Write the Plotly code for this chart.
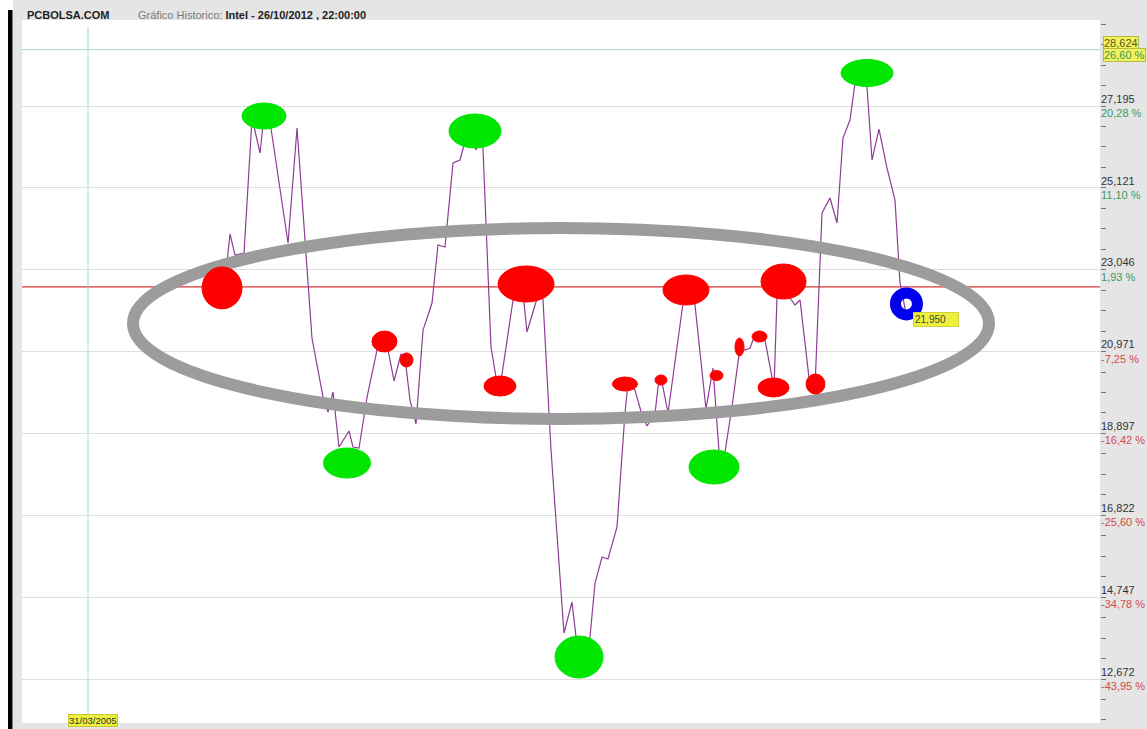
import plotly.graph_objects as go

# ---- data ----
# decimal years of the plotted vertices (Intel, Feb 2005 - 26/10/2012)
years = [2005.176, 2005.276, 2005.309, 2005.365, 2005.465, 2005.554, 2005.643, 2005.687,
         2005.754, 2005.954, 2006.054, 2006.187, 2006.220, 2006.343, 2006.398, 2006.454,
         2006.520, 2006.632, 2006.676, 2006.743, 2006.832, 2006.943, 2007.020, 2007.065,
         2007.132, 2007.209, 2007.254, 2007.309, 2007.376, 2007.454, 2007.554, 2007.620,
         2007.698, 2007.787, 2007.865, 2007.909, 2007.976, 2008.043, 2008.098, 2008.120,
         2008.209, 2008.265, 2008.309, 2008.454, 2008.532, 2008.576, 2008.609, 2008.709,
         2008.765, 2008.787, 2008.876, 2009.020, 2009.109, 2009.154, 2009.232, 2009.309,
         2009.365, 2009.443, 2009.509, 2009.609, 2009.698, 2009.731, 2009.809, 2009.887,
         2009.943, 2010.032, 2010.065, 2010.098, 2010.176, 2010.343, 2010.387, 2010.476,
         2010.598, 2010.676, 2010.743, 2010.776, 2010.809, 2010.887, 2010.976, 2011.032,
         2011.087, 2011.120, 2011.187, 2011.254, 2011.332, 2011.354, 2011.387, 2011.454,
         2011.532, 2011.587, 2011.643, 2011.743, 2011.809, 2011.887, 2011.976, 2012.054,
         2012.120, 2012.198, 2012.254, 2012.332, 2012.387, 2012.443, 2012.520, 2012.609,
         2012.698, 2012.754, 2012.820]

prices = [22.610, 23.241, 23.951, 23.418, 23.469, 26.891, 26.004, 26.967,
          26.789, 23.723, 26.637, 22.531, 21.315, 19.819, 19.439, 19.946,
          18.552, 18.958, 18.552, 18.527, 19.819, 21.011, 21.365, 21.011,
          20.225, 20.909, 20.808, 19.743, 19.135, 21.517, 22.202, 23.672,
          23.621, 25.750, 25.826, 26.207, 26.713, 26.080, 26.637, 26.130,
          21.087, 20.326, 20.047, 22.278, 23.140, 22.202, 21.467, 22.227,
          22.582, 22.278, 18.476, 13.838, 14.623, 13.736, 13.280, 13.736,
          15.105, 15.764, 15.713, 16.524, 19.414, 20.149, 19.997, 19.363,
          19.084, 19.414, 20.073, 20.326, 19.414, 22.202, 22.633, 22.151,
          19.515, 20.554, 18.425, 18.172, 18.425, 19.566, 21.087, 21.011,
          21.061, 21.264, 21.416, 21.264, 20.301, 20.047, 22.354, 22.835,
          22.329, 22.151, 22.278, 20.301, 20.047, 24.483, 24.863, 24.230,
          26.384, 26.840, 27.778, 28.260, 27.677, 25.826, 26.612, 25.624,
          24.812, 22.709, 21.950]

base_price = 22.61
cursor_price = 28.624
cursor_pct = "26,60 %"
cursor_date = "31/03/2005"
last_price_label = "21,950"

tick_values = [12.672, 14.747, 16.822, 18.897, 20.971, 23.046, 25.121, 27.195]
tick_value_labels = ["12,672", "14,747", "16,822", "18,897", "20,971", "23,046", "25,121", "27,195"]
tick_pct_labels = ["-43,95 %", "-34,78 %", "-25,60 %", "-16,42 %", "-7,25 %", "1,93 %", "11,10 %", "20,28 %"]

# highlighted points: (point index, colour, rx px, ry px, dx px, dy px)
GREEN = "#00e600"
RED = "#ff0000"
highlights = [
    (7, GREEN, 22, 13, 0, -1), (36, GREEN, 26, 17, 5, -6), (18, GREEN, 23.5, 15, -6, -16),
    (54, GREEN, 24, 21, -4, -2), (75, GREEN, 25, 17, -8, -5), (99, GREEN, 26, 13.5, 5, -9),
    (0, RED, 20, 21, 4, -1), (22, RED, 12.5, 10.5, 0.5, -5.5), (26, RED, 6.5, 7, 1.5, -2),
    (42, RED, 16, 10, 0, 2), (44, RED, 28, 18, 6, -18), (61, RED, 12.5, 7, -3, 0),
    (67, RED, 6, 5, 0, -3), (70, RED, 23, 15, -1, -4), (73, RED, 6.5, 5, 3.5, -7.5),
    (78, RED, 4.5, 9, -0.5, 0), (82, RED, 7.5, 5.5, 0.5, -2.5), (85, RED, 15.5, 9.5, -0.5, 0.5),
    (87, RED, 22.5, 17.5, 0.5, -3.5), (92, RED, 9.5, 10, 0.5, 4),
]

FONT = "Liberation Sans, Arial, sans-serif"
PW, PH, ML, MT = 1078, 703, 22, 20


def px_x(p):
    return (p - ML) / PW


def px_y(p):
    return (MT + PH - p) / PH


fig = go.Figure()
fig.add_trace(go.Scatter(x=years, y=prices, mode="lines",
                         line=dict(color="#8e3d95", width=1.2), hoverinfo="skip",
                         showlegend=False))

shapes = []
# background pieces outside the plot area
shapes.append(dict(type="rect", xref="paper", yref="paper", x0=px_x(0), x1=px_x(13),
                   y0=px_y(729), y1=px_y(0), fillcolor="white", line_width=0, layer="above"))
shapes.append(dict(type="rect", xref="paper", yref="paper", x0=px_x(8), x1=px_x(12.5),
                   y0=px_y(729), y1=px_y(10), fillcolor="black", line_width=0, layer="above"))
# reference (base) price line
shapes.append(dict(type="line", xref="paper", yref="y", x0=0, x1=1, y0=base_price, y1=base_price,
                   line=dict(color="#cc0000", width=1), layer="below"))
# cursor lines
shapes.append(dict(type="line", xref="paper", yref="y", x0=0, x1=1, y0=cursor_price, y1=cursor_price,
                   line=dict(color="#a6d3ca", width=1), layer="below"))
shapes.append(dict(type="line", xref="paper", yref="paper", x0=px_x(88), x1=px_x(88),
                   y0=0, y1=px_y(27), line=dict(color="#a6d3dc", width=1), layer="below"))
# big grey ellipse
shapes.append(dict(type="circle", xref="paper", yref="paper", x0=px_x(133), x1=px_x(989),
                   y0=px_y(419), y1=px_y(228), line=dict(color="#9c9c9c", width=12),
                   fillcolor="rgba(0,0,0,0)", layer="above"))
for idx, col, rx, ry, dx, dy in highlights:
    shapes.append(dict(type="circle", xref="x", yref="y", xsizemode="pixel", ysizemode="pixel",
                       xanchor=years[idx], yanchor=prices[idx],
                       x0=dx - rx, x1=dx + rx, y0=dy - ry, y1=dy + ry,
                       fillcolor=col, line=dict(color=col, width=1), layer="above"))
# blue ring on last price
shapes.append(dict(type="circle", xref="x", yref="y", xsizemode="pixel", ysizemode="pixel",
                   xanchor=years[-1], yanchor=prices[-1], x0=0.5 - 11, x1=0.5 + 11, y0=9 - 11, y1=9 + 11,
                   fillcolor="rgba(0,0,0,0)", line=dict(color="#0000ee", width=11), layer="above"))

annotations = []
# header
annotations.append(dict(xref="paper", yref="paper", x=px_x(25), y=px_y(15), xanchor="left", yanchor="middle",
                        text="<b>PCBOLSA.COM</b>", showarrow=False,
                        font=dict(family=FONT, size=11, color="#222222")))
annotations.append(dict(xref="paper", yref="paper", x=px_x(136), y=px_y(15), xanchor="left", yanchor="middle",
                        text="<span style='color:#7a7a7a'>Gráfico Historico:</span> <b>Intel - 26/10/2012 , 22:00:00</b>",
                        showarrow=False, font=dict(family=FONT, size=11, color="#222222")))
# cursor labels on the right
annotations.append(dict(xref="paper", yref="y", x=px_x(1103), y=cursor_price, xanchor="left", yanchor="middle",
                        yshift=6.5, text=f"{cursor_price:.3f}".replace(".", ","), showarrow=False,
                        bgcolor="#f2f25c", bordercolor="#b7b74a", borderwidth=1, borderpad=0,
                        font=dict(family=FONT, size=11, color="#5a5a14")))
annotations.append(dict(xref="paper", yref="y", x=px_x(1103), y=cursor_price, xanchor="left", yanchor="middle",
                        yshift=-5.5, text=cursor_pct, showarrow=False,
                        bgcolor="#f2f25c", bordercolor="#b7b74a", borderwidth=1, borderpad=0,
                        font=dict(family=FONT, size=11, color="#3d9a5c")))
# last price label
annotations.append(dict(xref="x", yref="y", x=years[-1], y=prices[-1], xanchor="center", yanchor="middle",
                        xshift=30, yshift=-7, text=last_price_label, showarrow=False,
                        bgcolor="#eef03c", bordercolor="#d0d040", borderwidth=1, borderpad=1,
                        width=42, align="left",
                        font=dict(family=FONT, size=10, color="#444444")))
# cursor date label
annotations.append(dict(xref="paper", yref="paper", x=px_x(92.5), y=px_y(720), xanchor="center", yanchor="middle",
                        text=cursor_date, showarrow=False,
                        bgcolor="#eef03c", bordercolor="#c8c83a", borderwidth=1, borderpad=0,
                        font=dict(family=FONT, size=9.5, color="#333333")))

tick_text = []
for lab, pct in zip(tick_value_labels, tick_pct_labels):
    col = "#d24a4a" if pct.startswith("-") else "#3d9a5c"
    tick_text.append(f"{lab}<br><span style='color:{col}'>{pct}</span>")

fig.update_layout(
    width=1147, height=729,
    margin=dict(l=ML, r=1147 - ML - PW, t=MT, b=729 - MT - PH, pad=0),
    paper_bgcolor="#e5e5e5", plot_bgcolor="white",
    shapes=shapes, annotations=annotations, showlegend=False,
    font=dict(family=FONT),
    xaxis=dict(range=[2002.998, 2014.976], visible=False, fixedrange=True),
    yaxis=dict(range=[11.557, 29.375], side="right", showgrid=True, gridcolor="#dddddd", gridwidth=1,
               zeroline=False, showline=False, ticks="", tickmode="array",
               tickvals=tick_values, ticktext=tick_text, automargin=False,
               tickfont=dict(family=FONT, size=11, color="#333333"),
               minor=dict(tickmode="linear", tick0=tick_values[0],
                          dtick=(tick_values[-1] - tick_values[0]) / 28, ticks="outside",
                          ticklen=5, tickcolor="#777777", showgrid=False)),
)

fig.write_html("out.html", config={"displayModeBar": False},
               post_script="document.body.style.margin='0';document.body.style.overflow='hidden';")
